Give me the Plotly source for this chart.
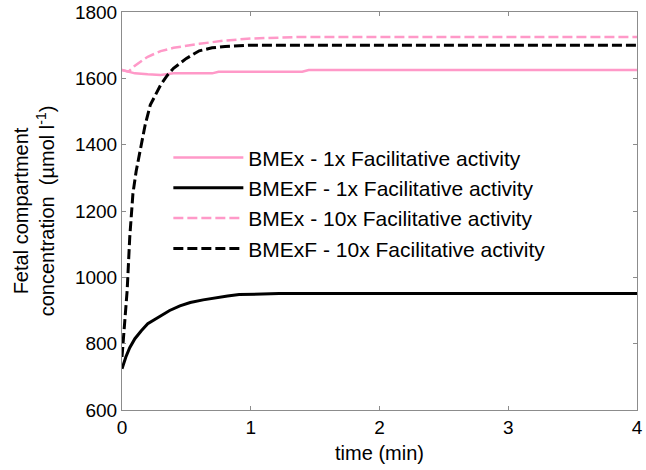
import plotly.graph_objects as go

# time (min) and concentrations (umol/l)
t_bmex_1x = [0, 0.05, 0.1, 0.2, 0.3, 0.4, 0.7, 0.75, 1.4, 1.45, 4]
c_bmex_1x = [1625, 1620, 1615, 1612, 1610, 1615, 1615, 1620, 1620, 1625, 1625]

t_bmexf_1x = [0, 0.03, 0.06, 0.1, 0.15, 0.2, 0.28, 0.37, 0.45, 0.53, 0.63, 0.73, 0.82, 0.91, 1.22, 4]
c_bmexf_1x = [724, 760, 788, 815, 839, 860, 879, 900, 914, 924, 932, 939, 944, 948, 951, 951]

t_bmex_10x = [0, 0.05, 0.1, 0.2, 0.3, 0.4, 0.6, 0.8, 1.0, 1.4, 4]
c_bmex_10x = [1625, 1620, 1638, 1665, 1682, 1692, 1704, 1714, 1720, 1725, 1725]

t_bmexf_10x = [0, 0.02, 0.04, 0.06, 0.085, 0.11, 0.14, 0.18, 0.22, 0.26, 0.3, 0.35, 0.4, 0.5, 0.6, 0.7, 0.8, 1.0, 4]
c_bmexf_10x = [760, 860, 960, 1120, 1253, 1320, 1383, 1460, 1520, 1550, 1580, 1608, 1630, 1660, 1683, 1692, 1696, 1700, 1700]

pink = "#FF99C8"
font_name = "Liberation Sans, Arial"

fig = go.Figure()
fig.add_trace(go.Scatter(x=t_bmex_1x, y=c_bmex_1x, mode="lines",
                         name="BMEx - 1x Facilitative activity",
                         line=dict(color=pink, width=2.5)))
fig.add_trace(go.Scatter(x=t_bmexf_1x, y=c_bmexf_1x, mode="lines",
                         name="BMExF - 1x Facilitative activity",
                         line=dict(color="black", width=3)))
fig.add_trace(go.Scatter(x=t_bmex_10x, y=c_bmex_10x, mode="lines",
                         name="BMEx - 10x Facilitative activity",
                         line=dict(color=pink, width=2.5, dash="10px,4px")))
fig.add_trace(go.Scatter(x=t_bmexf_10x, y=c_bmexf_10x, mode="lines",
                         name="BMExF - 10x Facilitative activity",
                         line=dict(color="black", width=3, dash="10px,4px")))

axis_style = dict(showline=True, linecolor="#8c8c8c", linewidth=1, mirror="ticks",
                  ticks="inside", ticklen=4, tickcolor="#8c8c8c",
                  showgrid=False, zeroline=False, automargin=False,
                  tickfont=dict(family=font_name, size=19, color="black"))

fig.update_xaxes(range=[0, 4], dtick=1,
                 title=dict(text="time (min)", standoff=9,
                            font=dict(family=font_name, size=20, color="black")),
                 **axis_style)
fig.update_yaxes(range=[600, 1800], dtick=200,
                 title=dict(text="Fetal compartment<br>concentration  (µmol l<sup>-1</sup>)", standoff=14,
                            font=dict(family=font_name, size=20, color="black")),
                 **axis_style)

fig.update_layout(
    width=646, height=470,
    margin=dict(l=122, r=9, t=12, b=60),
    plot_bgcolor="white", paper_bgcolor="white",
    font=dict(family=font_name, color="black"),
    showlegend=True,
    legend=dict(x=0.09, y=0.685, xanchor="left", yanchor="top",
                itemwidth=70, bgcolor="rgba(0,0,0,0)",
                font=dict(family=font_name, size=21, color="black")),
)

# drop the page's default body margin so the figure sits at the window's corner
fig.write_html("out.html", config={"displayModeBar": False},
               post_script="document.body.style.margin='0';")
